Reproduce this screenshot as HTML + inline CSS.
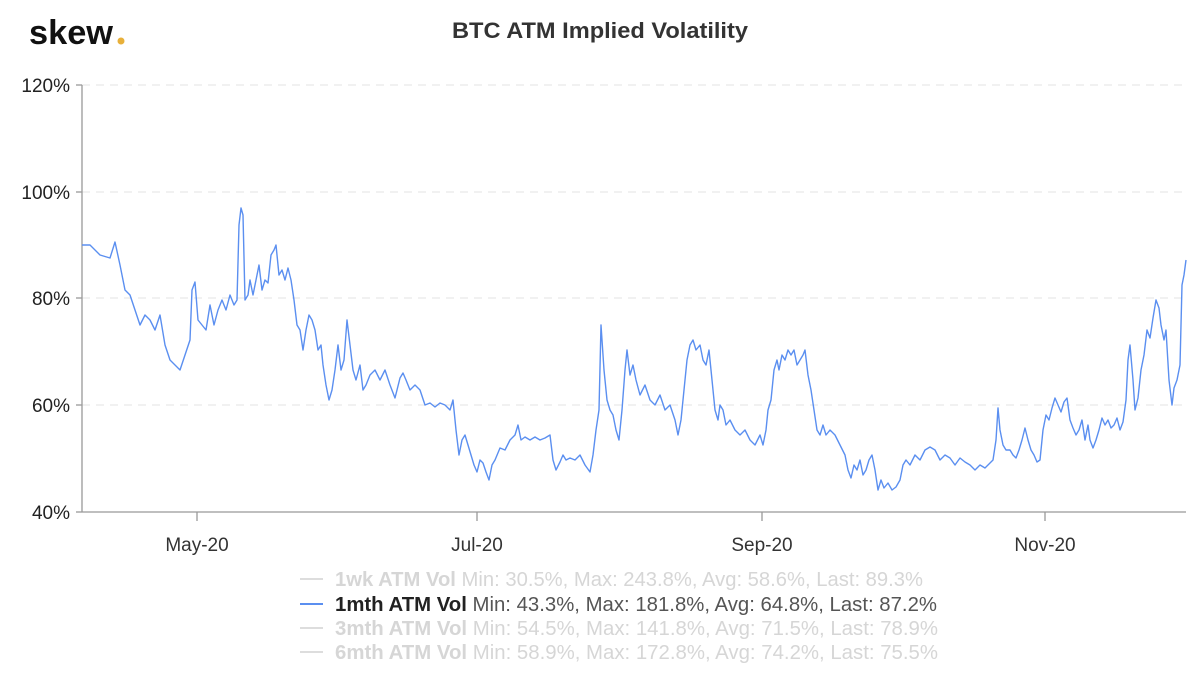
<!DOCTYPE html>
<html><head><meta charset="utf-8"><style>
body{margin:0;background:#fff;width:1200px;height:670px;overflow:hidden;font-family:"Liberation Sans",sans-serif}
</style></head><body>
<svg width="1200" height="670" xmlns="http://www.w3.org/2000/svg" font-family="Liberation Sans, sans-serif">
<text x="29" y="44" font-size="34" font-weight="bold" fill="#111" textLength="84" lengthAdjust="spacingAndGlyphs">skew</text>
<circle cx="121" cy="41" r="3.5" fill="#e8b03a"/>
<text x="452" y="38" font-size="22" fill="#333" font-weight="bold" textLength="296" lengthAdjust="spacingAndGlyphs">BTC ATM Implied Volatility</text>
<g stroke="#e3e3e3" stroke-dasharray="8,6" stroke-width="1">
<line x1="82" y1="85" x2="1186" y2="85"/><line x1="82" y1="192" x2="1186" y2="192"/>
<line x1="82" y1="298" x2="1186" y2="298"/><line x1="82" y1="405" x2="1186" y2="405"/>
</g>
<g stroke="#999" stroke-width="1.3">
<line x1="82" y1="85" x2="82" y2="512"/>
<line x1="76" y1="85" x2="82" y2="85"/><line x1="76" y1="192" x2="82" y2="192"/><line x1="76" y1="298" x2="82" y2="298"/><line x1="76" y1="405" x2="82" y2="405"/><line x1="76" y1="512" x2="82" y2="512"/>
<line x1="82" y1="512" x2="1186" y2="512"/>
<line x1="197" y1="512" x2="197" y2="521"/><line x1="477" y1="512" x2="477" y2="521"/><line x1="762" y1="512" x2="762" y2="521"/><line x1="1045" y1="512" x2="1045" y2="521"/>
</g>
<g font-size="19" fill="#222" text-anchor="end">
<text x="70" y="92">120%</text><text x="70" y="199">100%</text><text x="70" y="305">80%</text><text x="70" y="412">60%</text><text x="70" y="519">40%</text>
</g>
<g font-size="19" fill="#333" text-anchor="middle">
<text x="197" y="551">May-20</text><text x="477" y="551">Jul-20</text><text x="762" y="551">Sep-20</text><text x="1045" y="551">Nov-20</text>
</g>
<polyline fill="none" stroke="#5b8ff0" stroke-width="1.4" stroke-linejoin="round" points="82,245 90,245 95,250 100,255 110,258 115,242 120,265 125,290 130,295 135,310 140,325 145,315 150,320 155,330 160,315 165,345 170,360 175,365 180,370 185,355 190,340 192,290 195,282 198,320 202,325 206,330 210,305 214,325 218,310 222,300 226,310 230,295 234,305 237,300 239,225 241,208 243,215 245,300 248,295 250,280 253,295 256,280 259,265 262,290 265,280 268,283 271,255 274,250 276,245 279,275 282,270 285,280 288,268 291,280 294,300 297,325 300,330 303,350 306,330 309,315 312,320 315,330 318,350 321,345 323,365 326,385 329,400 332,390 335,370 338,345 341,370 344,360 347,320 350,345 353,370 356,380 360,365 363,390 366,385 370,375 375,370 380,380 385,370 390,385 395,398 400,378 403,373 406,380 410,390 415,385 420,390 425,405 430,403 435,407 440,403 445,405 450,410 453,400 456,430 459,455 462,440 465,435 468,445 471,455 474,465 477,472 480,460 483,463 486,472 489,480 492,465 495,460 500,448 505,450 510,440 515,435 518,425 521,440 525,437 530,440 535,437 540,440 545,438 550,435 553,460 556,470 560,462 563,455 566,460 570,458 575,460 580,455 585,465 590,472 593,455 596,430 599,410 601,325 604,370 607,400 610,410 613,415 616,430 619,440 622,410 625,370 627,350 630,375 633,365 636,380 640,395 645,385 650,400 655,405 660,395 665,410 670,405 675,420 678,435 681,420 684,390 687,360 690,345 693,340 696,350 700,345 703,360 706,365 709,350 712,380 715,410 718,420 720,405 723,410 726,425 730,420 735,430 740,435 745,430 750,440 755,445 760,435 763,445 766,430 768,410 771,400 774,370 777,360 779,370 782,355 785,360 788,350 791,355 794,350 797,365 800,360 803,355 805,350 808,375 811,390 814,410 817,430 820,435 823,425 826,435 830,430 835,435 840,445 845,455 848,470 851,478 854,465 857,470 860,460 863,475 866,470 869,460 872,455 875,470 878,490 881,480 884,488 888,483 892,490 896,487 900,480 903,465 906,460 910,465 915,455 920,460 925,450 930,447 935,450 940,460 945,455 950,458 955,465 960,458 965,462 970,465 975,470 980,465 985,468 990,463 993,460 996,440 998,408 1000,430 1003,445 1006,450 1010,450 1013,455 1016,458 1019,450 1022,440 1025,428 1028,440 1031,450 1034,455 1037,462 1040,460 1043,430 1046,415 1049,420 1052,408 1055,398 1058,405 1061,412 1064,402 1067,398 1070,420 1073,428 1076,435 1079,430 1082,420 1085,440 1088,425 1090,440 1093,448 1096,440 1099,430 1102,418 1105,425 1108,420 1111,428 1114,425 1117,418 1120,430 1123,422 1126,400 1128,360 1130,345 1133,380 1135,410 1138,398 1141,370 1144,355 1147,330 1150,338 1153,318 1156,300 1159,308 1161,325 1164,340 1166,330 1169,380 1172,405 1174,388 1177,380 1180,365 1182,285 1184,275 1186,260"/>
<g font-size="20">
<line x1="300" y1="579" x2="323" y2="579" stroke="#ddd" stroke-width="2"/>
<text x="335" y="586" fill="#d6d6d6" textLength="588" lengthAdjust="spacingAndGlyphs"><tspan font-weight="bold">1wk ATM Vol</tspan> Min: 30.5%, Max: 243.8%, Avg: 58.6%, Last: 89.3%</text>
<line x1="300" y1="604" x2="323" y2="604" stroke="#5b8ff0" stroke-width="2"/>
<text x="335" y="611" fill="#555" textLength="602" lengthAdjust="spacingAndGlyphs"><tspan fill="#222" font-weight="bold">1mth ATM Vol</tspan> Min: 43.3%, Max: 181.8%, Avg: 64.8%, Last: 87.2%</text>
<line x1="300" y1="628" x2="323" y2="628" stroke="#ddd" stroke-width="2"/>
<text x="335" y="635" fill="#d6d6d6" textLength="603" lengthAdjust="spacingAndGlyphs"><tspan font-weight="bold">3mth ATM Vol</tspan> Min: 54.5%, Max: 141.8%, Avg: 71.5%, Last: 78.9%</text>
<line x1="300" y1="652" x2="323" y2="652" stroke="#ddd" stroke-width="2"/>
<text x="335" y="659" fill="#d6d6d6" textLength="603" lengthAdjust="spacingAndGlyphs"><tspan font-weight="bold">6mth ATM Vol</tspan> Min: 58.9%, Max: 172.8%, Avg: 74.2%, Last: 75.5%</text>
</g>
</svg>
</body></html>
